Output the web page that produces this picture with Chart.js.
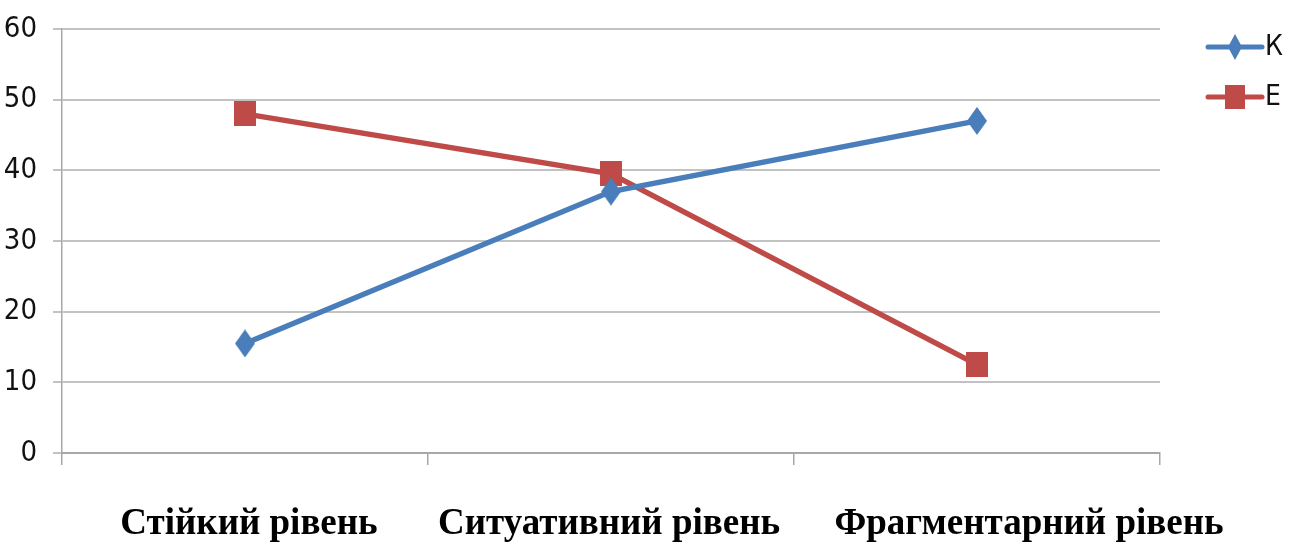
<!DOCTYPE html>
<html>
<head>
<meta charset="utf-8">
<script src="https://cdn.jsdelivr.net/npm/chart.js@4/dist/chart.umd.min.js"></script>
<style>
  html, body { margin: 0; padding: 0; background: #ffffff; }
</style>
</head>
<body>
<canvas id="chart" width="1295" height="542"></canvas>
<script>
// Levels on the horizontal axis
const categories = ['Стійкий рівень', 'Ситуативний рівень', 'Фрагментарний рівень'];
// Series names
const seriesNames = ['К', 'Е'];
// Values per level
const seriesK = [15.5, 37, 47];
const seriesE = [48, 39.5, 12.5];
// Vertical axis ticks
const yTicks = [0, 10, 20, 30, 40, 50, 60];

const BLUE = '#4a7ebb';
const RED = '#be4b48';
const GRID = '#c2c2c2';
const AXIS = '#a8a8a8';
const NUM_FONT = "'Liberation Sans Narrow', 'DejaVu Sans Condensed', 'Liberation Sans', sans-serif";

// Slightly tall marker shapes
function diamondMarker(w, h, color) {
  const c = document.createElement('canvas');
  c.width = w; c.height = h;
  const g = c.getContext('2d');
  g.fillStyle = color;
  g.beginPath();
  g.moveTo(w / 2, 0); g.lineTo(w, h / 2); g.lineTo(w / 2, h); g.lineTo(0, h / 2);
  g.closePath(); g.fill();
  return c;
}
function squareMarker(w, h, color) {
  const c = document.createElement('canvas');
  c.width = w; c.height = h;
  const g = c.getContext('2d');
  g.fillStyle = color;
  g.fillRect(0, 0, w, h);
  return c;
}

const markerK = diamondMarker(20, 28, BLUE);
const markerE = squareMarker(22, 25, RED);
const legendK = diamondMarker(14, 26, BLUE);
const legendE = squareMarker(20, 24, RED);

// Legend: line + marker + name, stacked at the right
const sideLegend = {
  id: 'sideLegend',
  afterDraw(chart) {
    const ctx = chart.ctx;
    const items = [
      { name: seriesNames[0], color: BLUE, img: legendK, y: 47 },
      { name: seriesNames[1], color: RED, img: legendE, y: 97 }
    ];
    ctx.save();
    items.forEach(it => {
      ctx.strokeStyle = it.color;
      ctx.lineWidth = 5;
      ctx.lineCap = 'round';
      ctx.beginPath();
      ctx.moveTo(1208, it.y);
      ctx.lineTo(1262, it.y);
      ctx.stroke();
      ctx.drawImage(it.img, 1235 - it.img.width / 2, it.y - it.img.height / 2);
      ctx.fillStyle = '#111111';
      ctx.font = '28px ' + NUM_FONT;
      ctx.textAlign = 'left';
      ctx.textBaseline = 'middle';
      ctx.fillText(it.name, 1265, it.y + 1);
    });
    ctx.restore();
  }
};

// Level names printed under the axis
const levelShift = [4, -2, 52];
const levelLabels = {
  id: 'levelLabels',
  afterDraw(chart) {
    const ctx = chart.ctx;
    const xs = chart.scales.x;
    ctx.save();
    ctx.fillStyle = '#000000';
    ctx.font = "bold 37px 'Liberation Serif', 'Times New Roman', serif";
    ctx.textAlign = 'center';
    ctx.textBaseline = 'alphabetic';
    categories.forEach((name, i) => {
      ctx.fillText(name, xs.getPixelForValue(i) + levelShift[i], 534);
    });
    ctx.restore();
  }
};

new Chart(document.getElementById('chart'), {
  type: 'line',
  data: {
    labels: categories,
    datasets: [
      {
        label: seriesNames[0],
        data: seriesK,
        borderColor: BLUE,
        backgroundColor: BLUE,
        borderWidth: 5.5,
        pointStyle: markerK,
        pointRadius: 10,
        pointHoverRadius: 10,
        tension: 0,
        fill: false
      },
      {
        label: seriesNames[1],
        data: seriesE,
        borderColor: RED,
        backgroundColor: RED,
        borderWidth: 5.5,
        pointStyle: markerE,
        pointRadius: 10,
        pointHoverRadius: 10,
        tension: 0,
        fill: false
      }
    ]
  },
  options: {
    responsive: false,
    animation: false,
    events: [],
    layout: { padding: { top: 29, right: 135, left: 0, bottom: 0 } },
    plugins: {
      legend: { display: false },
      tooltip: { enabled: false },
      title: { display: false }
    },
    scales: {
      x: {
        type: 'category',
        offset: true,
        grid: {
          offset: true,
          drawOnChartArea: false,
          drawTicks: true,
          tickLength: 12,
          color: AXIS,
          lineWidth: 1.5
        },
        border: { display: true, color: AXIS, width: 2 },
        ticks: { display: false },
        afterFit(s) { s.height = 89; }
      },
      y: {
        min: 0,
        max: 60,
        afterBuildTicks(s) { s.ticks = yTicks.map(v => ({ value: v })); },
        ticks: {
          color: '#111111',
          padding: 16,
          font: { family: NUM_FONT, size: 29, lineHeight: 0.9 }
        },
        grid: {
          color: GRID,
          lineWidth: 2,
          tickLength: 9,
          drawTicks: true
        },
        border: { display: true, color: AXIS, width: 1.5 },
        afterFit(s) { s.width = 62; }
      }
    }
  },
  plugins: [sideLegend, levelLabels]
});
</script>
</body>
</html>
